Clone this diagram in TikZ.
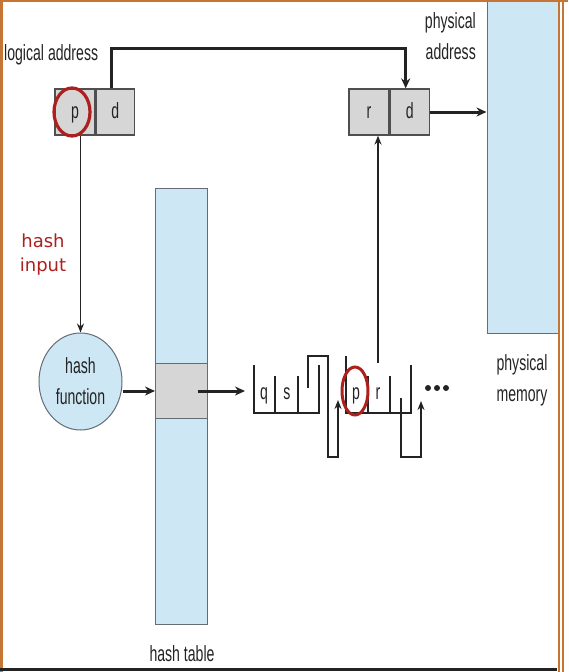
\documentclass[tikz,border=0pt]{standalone}
\usepackage{fontspec}
\newfontfamily\narrowfont{Liberation Sans}[FakeStretch=0.64]
\newfontfamily\inputfont{DejaVu Sans}
\usetikzlibrary{arrows.meta,positioning,shapes.geometric}

\definecolor{memblue}{RGB}{206,231,245}
\definecolor{cellgray}{RGB}{214,214,214}
\definecolor{edgegray}{RGB}{100,108,118}
\definecolor{inkdark}{RGB}{35,35,35}
\definecolor{circred}{RGB}{172,32,30}
\definecolor{framebrown}{RGB}{198,118,52}

\begin{document}
\begin{tikzpicture}[
        x=1pt, y=-1pt,
        every node/.style={font=\narrowfont\fontsize{22}{31}\selectfont, text=inkdark, inner sep=0pt},
        field/.style={draw=inkdark!80, fill=cellgray, line width=1.2pt, minimum height=46pt, text height=16pt, text depth=4pt},
        thin arrow/.style={draw=inkdark, line width=1.6pt, -{Stealth[length=9pt,width=7pt]}},
        thick arrow/.style={draw=inkdark, line width=3pt, -{Stealth[length=10pt,width=9pt]}},
        listline/.style={draw=inkdark, line width=2pt}
    ]
    \useasboundingbox (0,0) rectangle (568,672);

    % Physical memory
    \node[draw=edgegray, fill=memblue, line width=1pt, minimum width=71pt, minimum height=336pt] (mem) at (522.5,165) {};
    \node[align=center] (memlbl) at (522,380) {physical\\memory};

    % Address boxes
    \node[field, minimum width=40pt] (pf) at (75,112) {p};
    \node[field, minimum width=38pt, right=0pt of pf] (df) {d};
    \node[field, minimum width=40pt] (rf) at (369,112) {r};
    \node[field, minimum width=39pt, right=0pt of rf] (rdf) {d};

    % Labels
    \node[anchor=west] (la) at (4,55) {logical address};
    \node[align=right, anchor=east] (pa) at (476,36) {physical\\address};
    \node[align=center, font=\inputfont\fontsize{18}{24}\selectfont, text=circred] (hin) at (43,255) {hash\\input};

    % Hash function and table
    \node[ellipse, draw=edgegray, fill=memblue, line width=1pt, minimum width=83pt, minimum height=97pt, align=center] (hf) at (80.5,381.5) {hash\\function};
    \node[draw=edgegray, fill=memblue, line width=1pt, minimum width=52pt, minimum height=436pt] (ht) at (181.5,406) {};
    \node[draw=edgegray, fill=cellgray, line width=1pt, minimum width=52pt, minimum height=55pt] (hrow) at (181.5,391) {};
    \node (htlbl) at (182,654) {hash table};

    % Red marks on p
    \node[ellipse, draw=circred, line width=3.2pt, minimum width=36pt, minimum height=48pt] (pc1) at (72,112) {};

    % Operators
    \draw[thick arrow] ([xshift=-4pt]df.north) -- ++(0,-40) -| ([xshift=-4pt]rdf.north);
    \draw[thick arrow] (rdf.east) -- (rdf.east -| mem.west);
    \draw[thin arrow] (pf.south -| hf.north) -- (hf.north);
    \draw[thick arrow] (hf.east |- hrow.west) -- (hrow.west);
    \coordinate (lst) at (245,391);
    \draw[thick arrow] ([xshift=16pt]hrow.center) -- (lst);

    % Chain entry q s
    \node[text height=16pt, text depth=4pt] (q) at (264,393) {q};
    \node[text height=16pt, text depth=4pt] (s) at (287,393) {s};
    \draw[listline] (254,365) -- (254,413) -- (319,413) -- (319,365);
    \draw[listline] (275,376) -- (275,413) (298,376) -- (298,413);
    \draw[listline, -{Stealth[length=9pt,width=7pt]}] (308,388) -- (308,356) -- (328,356) -- (328,457) -- (338,457) -- (338,400);

    % Chain entry p r
    \node[text height=16pt, text depth=4pt] (p2) at (356,393) {p};
    \node[text height=16pt, text depth=4pt] (r2) at (378,393) {r};
    \draw[listline] (346,356) -- (346,413) -- (411,413) -- (411,365);
    \draw[listline] (368,376) -- (368,413) (390,376) -- (390,413);
    \draw[listline, -{Stealth[length=9pt,width=7pt]}] (401,398) -- (401,457) -- (421,457) -- (421,401);
    \coordinate (rup) at (378,363);
    \draw[thin arrow] (rup) -- (rup |- rf.south);
    \node[ellipse, draw=circred, line width=3pt, minimum width=26pt, minimum height=48pt] (pc2) at (355,391) {};
    \foreach \dx in {428,437,446}
      \fill[inkdark] (\dx,388) circle (3pt);

    % Frame
    \draw[framebrown, line width=2.5pt] (1.5,0) -- (1.5,672);
    \draw[framebrown, line width=2pt] (0,1) -- (568,1);
    \draw[framebrown, line width=2pt] (558.5,0) -- (558.5,672);
    \draw[framebrown, line width=2pt] (562.5,0) -- (562.5,672);
    \draw[inkdark, line width=2.5pt] (0,669.5) -- (557,669.5);
\end{tikzpicture}
\end{document}
